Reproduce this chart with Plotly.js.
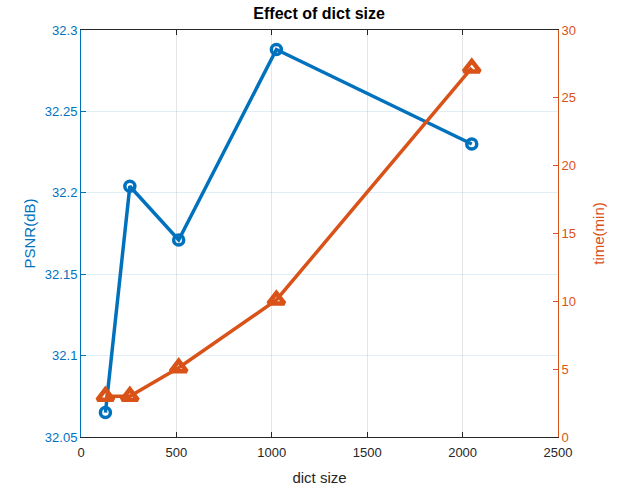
<!DOCTYPE html>
<html>
<head>
<meta charset="utf-8">
<script src="https://cdn.plot.ly/plotly-3.0.1.min.js"></script>
<style>html,body{margin:0;padding:0;background:#fff;}#chart{width:627px;height:486px;}</style>
</head>
<body>
<div id="chart"></div>
<script>
const dictSize = [128, 256, 512, 1024, 2048];
const psnr = [32.065, 32.204, 32.171, 32.288, 32.230];
const timeMin = [3.0, 3.0, 5.1, 10.1, 27.2];
const xTicks = [0, 500, 1000, 1500, 2000, 2500];
const yTicks = [32.05, 32.1, 32.15, 32.2, 32.25, 32.3];
const y2Ticks = [0, 5, 10, 15, 20, 25, 30];

const blue = '#0072BD', orange = '#D95319';
const font = 'Liberation Sans, Arial, sans-serif';

const traces = [
  {x: dictSize, y: psnr, type: 'scatter', mode: 'lines+markers', yaxis: 'y',
   line: {color: blue, width: 3.5},
   marker: {symbol: 'circle-open', size: 10, color: blue, line: {width: 3.5, color: blue}}},
  {x: dictSize, y: timeMin, type: 'scatter', mode: 'lines+markers', yaxis: 'y2',
   line: {color: orange, width: 3.5},
   marker: {symbol: 'triangle-up-open', size: 14, color: orange, line: {width: 4.5, color: orange}}}
];

const layout = {
  width: 627, height: 486,
  margin: {l: 81, r: 69, t: 30, b: 49},
  paper_bgcolor: '#fff', plot_bgcolor: '#fff',
  showlegend: false,
  font: {family: font, size: 13, color: '#262626'},
  title: {text: '<b>Effect of dict size</b>', font: {family: font, size: 16, color: '#000'}, x: 0.509, xanchor: 'center', y: 0.972, yanchor: 'middle'},
  xaxis: {
    range: [0, 2500], tickvals: xTicks, ticktext: xTicks.map(String),
    showline: true, linecolor: '#262626', linewidth: 1, mirror: 'ticks',
    ticks: 'inside', ticklen: 5, tickcolor: '#262626', ticklabelstandoff: 3,
    showgrid: true, gridcolor: '#e6e6e6', gridwidth: 1, zeroline: false,
    tickfont: {size: 13, color: '#262626'},
    title: {text: 'dict size', font: {size: 15, color: '#262626'}, standoff: 14}
  },
  yaxis: {
    range: [32.05, 32.3], tickvals: yTicks, ticktext: yTicks.map(v => String(v)),
    showline: true, linecolor: blue, linewidth: 1,
    ticks: 'inside', ticklen: 5, tickcolor: blue,
    showgrid: true, gridcolor: 'rgba(0,114,189,0.12)', zeroline: false,
    tickfont: {size: 13, color: blue},
    title: {text: 'PSNR(dB)', font: {size: 15, color: blue}, standoff: 5}
  },
  yaxis2: {
    range: [0, 30], tickvals: y2Ticks, ticktext: y2Ticks.map(String),
    overlaying: 'y', side: 'right', anchor: 'x',
    showline: true, linecolor: orange, linewidth: 1,
    ticks: 'inside', ticklen: 5, tickcolor: orange,
    showgrid: false, zeroline: false,
    tickfont: {size: 13, color: orange},
    title: {text: 'time(min)', font: {size: 15, color: orange}, standoff: 18}
  }
};

Plotly.newPlot('chart', traces, layout, {displayModeBar: false, staticPlot: true});
</script>
</body>
</html>
